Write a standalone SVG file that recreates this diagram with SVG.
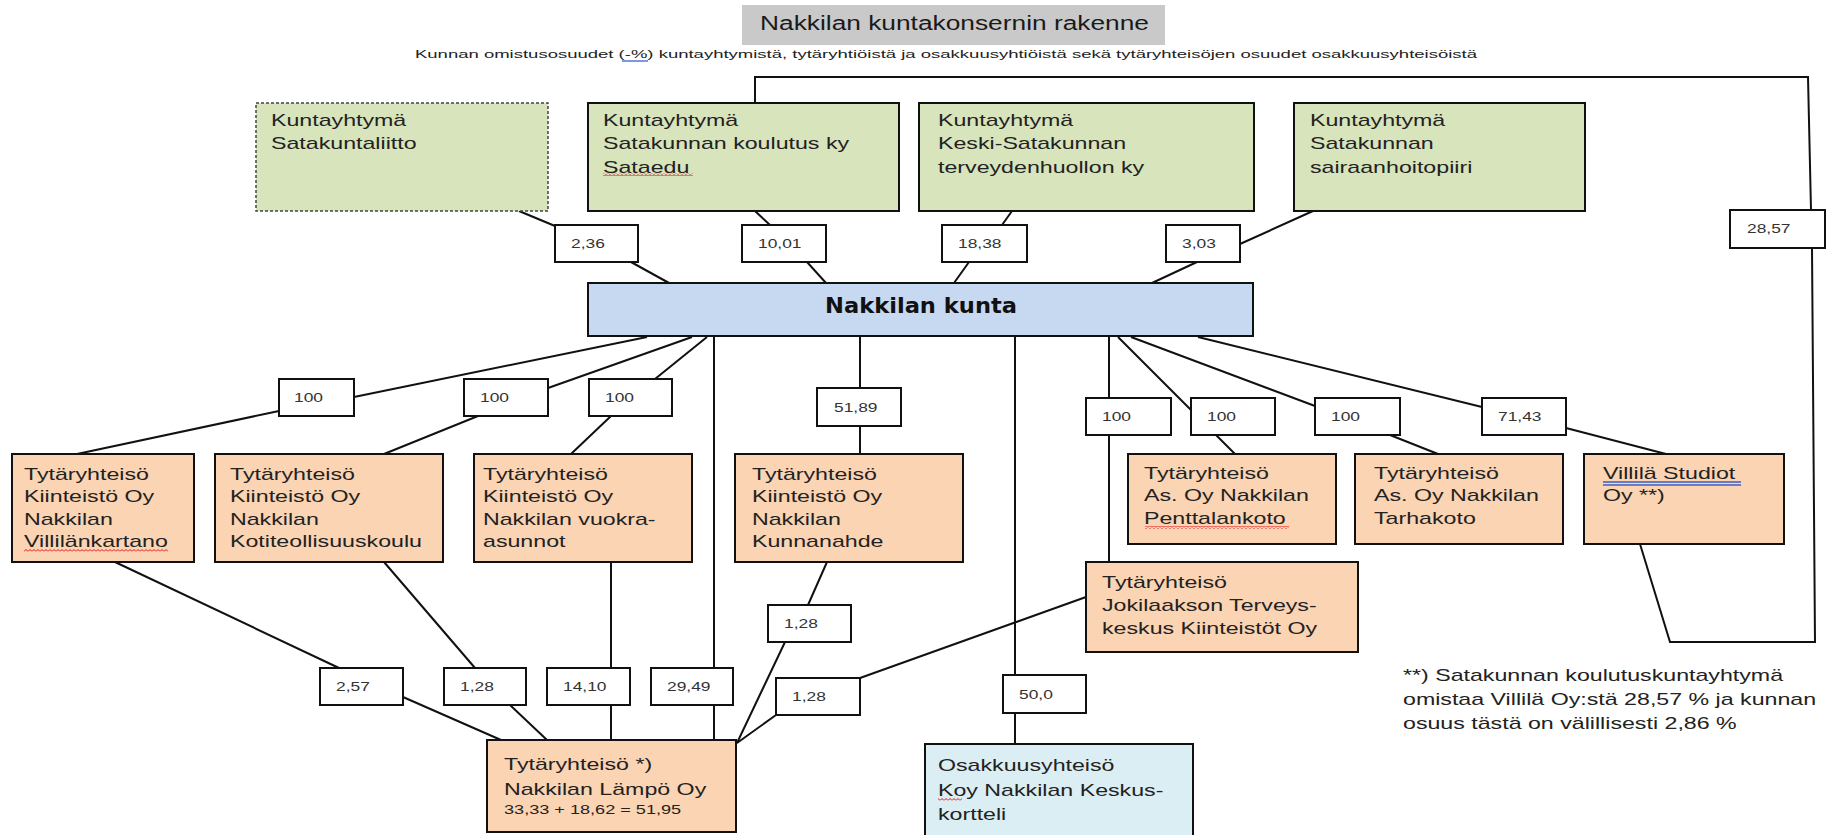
<svg xmlns="http://www.w3.org/2000/svg" width="1835" height="835" viewBox="0 0 1835 835">
<defs>
<style>
.box{stroke:#111;stroke-width:2}
.g{fill:#d8e4bc}
.b{fill:#c6d9f0}
.o{fill:#fbd4b4}
.lb{fill:#dbeef3}
.t{font-family:"Liberation Sans",Arial,sans-serif;font-size:16px;fill:#222}
.sm{font-size:12.5px}
.lt{font-family:"Liberation Sans",Arial,sans-serif;font-size:12px;fill:#333}
.ln{fill:none;stroke:#111;stroke-width:2}
.lab{fill:#fff;stroke:#111;stroke-width:2}
.wv{fill:url(#wave)}
.ul{stroke:#3a5fcd;stroke-width:1.3}
</style>
<pattern id="wave" width="4" height="3" patternUnits="userSpaceOnUse">
<path d="M0,2.5 L2,0.5 L4,2.5" fill="none" stroke="#e01010" stroke-width="1"/>
</pattern>
</defs>
<rect width="1835" height="835" fill="#fff"/>

<g id="title">
<rect x="742" y="5" width="423" height="40" fill="#c9c9c9"/>
<text x="760" y="30" font-family="Liberation Sans, Arial, sans-serif" font-size="19.5" fill="#1a1a1a" textLength="389" lengthAdjust="spacingAndGlyphs">Nakkilan kuntakonsernin rakenne</text>
<text x="415" y="58" font-family="Liberation Sans, Arial, sans-serif" font-size="11.5" fill="#222" textLength="1062" lengthAdjust="spacingAndGlyphs">Kunnan omistusosuudet (-%) kuntayhtymistä, tytäryhtiöistä ja osakkuusyhtiöistä sekä tytäryhteisöjen osuudet osakkuusyhteisöistä</text>
<line class="ul" x1="622" y1="61" x2="648" y2="61"/>
</g>

<g id="connectors">
<path class="ln" d="M519,211 L555,226 M631,262 L669,283"/>
<path class="ln" d="M755,211 L770,225 M807,262 L826,283"/>
<path class="ln" d="M1012,211 L1002,225 M969,262 L954,283"/>
<path class="ln" d="M1313,211 L1240,244 M1197,262 L1152,283"/>
<path class="ln" d="M755,103 L755,77 L1808,77 L1811,210 M1812,248 L1815,642 L1670,642 L1640,544"/>
<path class="ln" d="M647,337 L354,397 M279,411 L77,454"/>
<path class="ln" d="M692,337 L548,388 M478,416 L384,454"/>
<path class="ln" d="M707,337 L655,379 M611,416 L571,454"/>
<path class="ln" d="M714,337 L714,668 M714,705 L714,740"/>
<path class="ln" d="M860,337 L860,388 M860,426 L860,454"/>
<path class="ln" d="M1015,337 L1015,675 M1015,713 L1015,744"/>
<path class="ln" d="M1109,337 L1109,398 M1109,435 L1109,562"/>
<path class="ln" d="M1118,337 L1191,410 M1216,435 L1235,454"/>
<path class="ln" d="M1131,337 L1315,406 M1390,435 L1438,454"/>
<path class="ln" d="M1198,337 L1482,407 M1566,428 L1666,454"/>
<path class="ln" d="M115,562 L339,668 M403,697 L501,740"/>
<path class="ln" d="M384,562 L475,668 M510,705 L547,740"/>
<path class="ln" d="M611,562 L611,668 M611,705 L611,740"/>
<path class="ln" d="M827,562 L808,605 M785,642 L737,743"/>
<path class="ln" d="M1086,597 L860,678 M776,715 L737,743"/>

<rect class="lab" x="555" y="225" width="83" height="37"/><text class="lt" transform="matrix(1.45 0 0 1 571 248)">2,36</text>
<rect class="lab" x="742" y="225" width="84" height="37"/><text class="lt" transform="matrix(1.45 0 0 1 758 248)">10,01</text>
<rect class="lab" x="942" y="225" width="85" height="37"/><text class="lt" transform="matrix(1.45 0 0 1 958 248)">18,38</text>
<rect class="lab" x="1166" y="225" width="74" height="37"/><text class="lt" transform="matrix(1.45 0 0 1 1182 248)">3,03</text>
<rect class="lab" x="1730" y="210" width="95" height="38"/><text class="lt" transform="matrix(1.45 0 0 1 1747 233)">28,57</text>
<rect class="lab" x="279" y="379" width="75" height="37"/><text class="lt" transform="matrix(1.45 0 0 1 294 402)">100</text>
<rect class="lab" x="464" y="379" width="84" height="37"/><text class="lt" transform="matrix(1.45 0 0 1 480 402)">100</text>
<rect class="lab" x="589" y="379" width="83" height="37"/><text class="lt" transform="matrix(1.45 0 0 1 605 402)">100</text>
<rect class="lab" x="817" y="388" width="84" height="38"/><text class="lt" transform="matrix(1.45 0 0 1 834 412)">51,89</text>
<rect class="lab" x="1086" y="398" width="85" height="37"/><text class="lt" transform="matrix(1.45 0 0 1 1102 421)">100</text>
<rect class="lab" x="1191" y="398" width="84" height="37"/><text class="lt" transform="matrix(1.45 0 0 1 1207 421)">100</text>
<rect class="lab" x="1315" y="398" width="85" height="37"/><text class="lt" transform="matrix(1.45 0 0 1 1331 421)">100</text>
<rect class="lab" x="1482" y="398" width="84" height="37"/><text class="lt" transform="matrix(1.45 0 0 1 1498 421)">71,43</text>
<rect class="lab" x="768" y="605" width="83" height="37"/><text class="lt" transform="matrix(1.45 0 0 1 784 628)">1,28</text>
<rect class="lab" x="320" y="668" width="83" height="37"/><text class="lt" transform="matrix(1.45 0 0 1 336 691)">2,57</text>
<rect class="lab" x="444" y="668" width="82" height="37"/><text class="lt" transform="matrix(1.45 0 0 1 460 691)">1,28</text>
<rect class="lab" x="547" y="668" width="83" height="37"/><text class="lt" transform="matrix(1.45 0 0 1 563 691)">14,10</text>
<rect class="lab" x="651" y="668" width="82" height="37"/><text class="lt" transform="matrix(1.45 0 0 1 667 691)">29,49</text>
<rect class="lab" x="1003" y="675" width="83" height="38"/><text class="lt" transform="matrix(1.45 0 0 1 1019 699)">50,0</text>
<rect class="lab" x="776" y="678" width="84" height="37"/><text class="lt" transform="matrix(1.45 0 0 1 792 701)">1,28</text>
</g>

<g id="satakuntaliitto">
<rect class="g" x="256" y="103" width="292" height="108" stroke="#444" stroke-width="1.5" stroke-dasharray="3,2"/>
<text class="t" transform="matrix(1.45 0 0 1 271 126)"><tspan x="0" y="0">Kuntayhtymä</tspan><tspan x="0" y="23.5">Satakuntaliitto</tspan></text>
</g>
<g id="sataedu">
<rect class="g box" x="588" y="103" width="311" height="108"/>
<text class="t" transform="matrix(1.45 0 0 1 603 126)"><tspan x="0" y="0">Kuntayhtymä</tspan><tspan x="0" y="23.5">Satakunnan koulutus ky</tspan><tspan x="0" y="47">Sataedu</tspan></text>
<rect class="wv" x="603" y="173" width="90" height="3"/>
</g>
<g id="keski-satakunta">
<rect class="g box" x="919" y="103" width="335" height="108"/>
<text class="t" transform="matrix(1.45 0 0 1 938 126)"><tspan x="0" y="0">Kuntayhtymä</tspan><tspan x="0" y="23.5">Keski-Satakunnan</tspan><tspan x="0" y="47">terveydenhuollon ky</tspan></text>
</g>
<g id="sairaanhoitopiiri">
<rect class="g box" x="1294" y="103" width="291" height="108"/>
<text class="t" transform="matrix(1.45 0 0 1 1310 126)"><tspan x="0" y="0">Kuntayhtymä</tspan><tspan x="0" y="23.5">Satakunnan</tspan><tspan x="0" y="47">sairaanhoitopiiri</tspan></text>
</g>

<g id="nakkilan-kunta">
<rect class="b box" x="588" y="283" width="665" height="53"/>
<text x="825" y="313" font-family="DejaVu Sans, sans-serif" font-weight="bold" font-size="22" fill="#111" textLength="192" lengthAdjust="spacingAndGlyphs">Nakkilan kunta</text>
</g>

<g id="villilankartano">
<rect class="o box" x="12" y="454" width="182" height="108"/>
<text class="t" transform="matrix(1.45 0 0 1 24 480)"><tspan x="0" y="0">Tytäryhteisö</tspan><tspan x="0" y="22.5">Kiinteistö Oy</tspan><tspan x="0" y="45">Nakkilan</tspan><tspan x="0" y="67.5">Villilänkartano</tspan></text>
<rect class="wv" x="24" y="549" width="144" height="3"/>
</g>
<g id="kotiteollisuuskoulu">
<rect class="o box" x="215" y="454" width="228" height="108"/>
<text class="t" transform="matrix(1.45 0 0 1 230 480)"><tspan x="0" y="0">Tytäryhteisö</tspan><tspan x="0" y="22.5">Kiinteistö Oy</tspan><tspan x="0" y="45">Nakkilan</tspan><tspan x="0" y="67.5">Kotiteollisuuskoulu</tspan></text>
</g>
<g id="vuokra-asunnot">
<rect class="o box" x="474" y="454" width="218" height="108"/>
<text class="t" transform="matrix(1.45 0 0 1 483 480)"><tspan x="0" y="0">Tytäryhteisö</tspan><tspan x="0" y="22.5">Kiinteistö Oy</tspan><tspan x="0" y="45">Nakkilan vuokra-</tspan><tspan x="0" y="67.5">asunnot</tspan></text>
</g>
<g id="kunnanahde">
<rect class="o box" x="735" y="454" width="228" height="108"/>
<text class="t" transform="matrix(1.45 0 0 1 752 480)"><tspan x="0" y="0">Tytäryhteisö</tspan><tspan x="0" y="22.5">Kiinteistö Oy</tspan><tspan x="0" y="45">Nakkilan</tspan><tspan x="0" y="67.5">Kunnanahde</tspan></text>
</g>
<g id="penttalankoto">
<rect class="o box" x="1128" y="454" width="208" height="90"/>
<text class="t" transform="matrix(1.45 0 0 1 1144 479)"><tspan x="0" y="0">Tytäryhteisö</tspan><tspan x="0" y="22.5">As. Oy Nakkilan</tspan><tspan x="0" y="45">Penttalankoto</tspan></text>
<rect class="wv" x="1145" y="526" width="144" height="3"/>
</g>
<g id="tarhakoto">
<rect class="o box" x="1355" y="454" width="208" height="90"/>
<text class="t" transform="matrix(1.45 0 0 1 1374 479)"><tspan x="0" y="0">Tytäryhteisö</tspan><tspan x="0" y="22.5">As. Oy Nakkilan</tspan><tspan x="0" y="45">Tarhakoto</tspan></text>
</g>
<g id="villila-studiot">
<rect class="o box" x="1584" y="454" width="200" height="90"/>
<text class="t" transform="matrix(1.45 0 0 1 1603 479)"><tspan x="0" y="0">Villilä  Studiot</tspan><tspan x="0" y="22.5">Oy **)</tspan></text>
<line class="ul" x1="1603" y1="482" x2="1741" y2="482"/>
<line class="ul" x1="1603" y1="485" x2="1741" y2="485"/>
</g>
<g id="jokilaakso">
<rect class="o box" x="1086" y="562" width="272" height="90"/>
<text class="t" transform="matrix(1.45 0 0 1 1102 588)"><tspan x="0" y="0">Tytäryhteisö</tspan><tspan x="0" y="23">Jokilaakson Terveys-</tspan><tspan x="0" y="46">keskus Kiinteistöt Oy</tspan></text>
</g>
<g id="lampo">
<rect class="o box" x="487" y="740" width="249" height="92"/>
<text class="t" transform="matrix(1.45 0 0 1 504 770)"><tspan x="0" y="0">Tytäryhteisö *)</tspan><tspan x="0" y="25">Nakkilan Lämpö Oy</tspan><tspan class="sm" x="0" y="44">33,33 + 18,62 = 51,95</tspan></text>
</g>
<g id="keskuskortteli">
<rect class="lb box" x="925" y="744" width="268" height="100"/>
<text class="t" transform="matrix(1.45 0 0 1 938 771)"><tspan x="0" y="0">Osakkuusyhteisö</tspan><tspan x="0" y="25">Koy Nakkilan Keskus-</tspan><tspan x="0" y="49">kortteli</tspan></text>
<rect class="wv" x="938" y="798" width="24" height="3"/>
</g>

<g id="footnote">
<text class="t" transform="matrix(1.45 0 0 1 1403 681)"><tspan x="0" y="0">**) Satakunnan koulutuskuntayhtymä</tspan><tspan x="0" y="24.5">omistaa Villilä Oy:stä 28,57 % ja kunnan</tspan><tspan x="0" y="48.5">osuus tästä on välillisesti 2,86 %</tspan></text>
</g>
</svg>
